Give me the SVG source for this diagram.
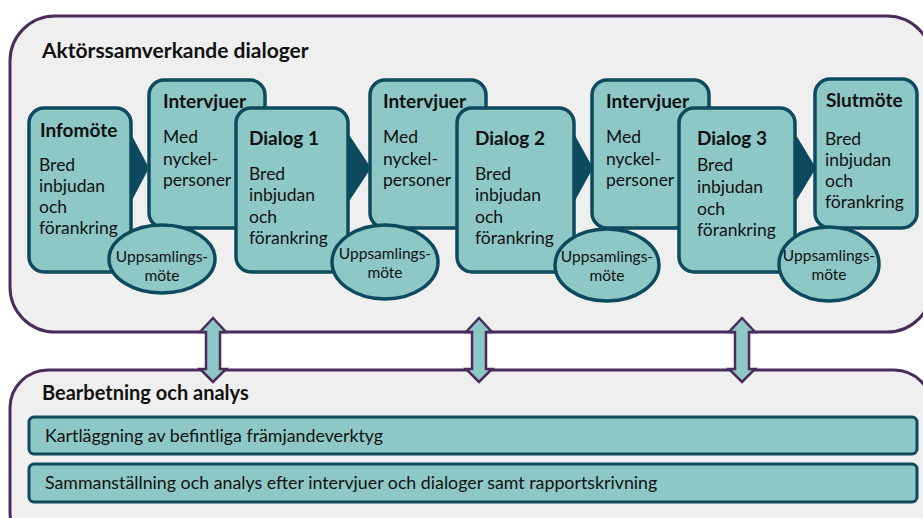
<svg xmlns="http://www.w3.org/2000/svg" width="923" height="518" viewBox="0 0 923 518">
<defs>
<style>
.panel{fill:#efefef;stroke:#4a2c5a;stroke-width:3}
.box{fill:#8ec8c6;stroke:#0e4a5e;stroke-width:3.5}
.bar{fill:#8ec8c6;stroke:#0e4a5e;stroke-width:3}
.chev{fill:#0e4a5e}
.dbl{fill:#8ec8c6;stroke:#4a2c5a;stroke-width:2.5;stroke-linejoin:miter}
text{font-family:Lato,"Open Sans","Liberation Sans",sans-serif;fill:#111}
.h{font-size:21px;font-weight:bold}
.h2{font-size:20px;font-weight:bold}
.t{font-size:19px;font-weight:bold}
.b{font-size:17.5px}
.e{font-size:15.5px;text-anchor:middle}
.bt{font-size:17.8px}
</style>
</defs>
<rect width="923" height="518" fill="#ffffff"/>
<g id="panel-top">
<rect class="panel" x="10" y="16" width="922" height="316" rx="45"/>
<text class="h" x="42" y="58">Aktörssamverkande dialoger</text>
</g>
<g id="panel-bottom">
<rect class="panel" x="10" y="370" width="922" height="180" rx="38"/>
<text class="h2" x="42" y="400">Bearbetning och analys</text>
</g>
<g id="connectors">
<polygon class="chev" points="129,130 149,168 129,206"/>
<polygon class="chev" points="346,130 371,168 346,206"/>
<polygon class="chev" points="572,130 593,168 572,206"/>
<polygon class="chev" points="793,130 816,168 793,206"/>
<polygon class="dbl" points="213,318 226,332 220,332 220,369 226,369 213,382 200,369 206,369 206,332 200,332"/>
<polygon class="dbl" points="479,318 492,332 486,332 486,369 492,369 479,382 466,369 472,369 472,332 466,332"/>
<polygon class="dbl" points="742,318 755,332 749,332 749,369 755,369 742,382 729,369 735,369 735,332 729,332"/>
</g>
<g id="infomote">
<rect class="box" x="29" y="108" width="102" height="164" rx="15"/>
<text class="t" x="40" y="137">Infomöte</text>
<text class="b" x="39" y="171">Bred</text>
<text class="b" x="39" y="192">inbjudan</text>
<text class="b" x="39" y="213">och</text>
<text class="b" x="39" y="234">förankring</text>
</g>
<g id="intervjuer1">
<rect class="box" x="149" y="80" width="116" height="148" rx="15"/>
<text class="t" x="163" y="108">Intervjuer</text>
<text class="b" x="163" y="143">Med</text>
<text class="b" x="163" y="165">nyckel-</text>
<text class="b" x="163" y="186">personer</text>
</g>
<g id="dialog1">
<rect class="box" x="236" y="108" width="112" height="164" rx="15"/>
<text class="t" x="249" y="145">Dialog 1</text>
<text class="b" x="249" y="180">Bred</text>
<text class="b" x="249" y="201">inbjudan</text>
<text class="b" x="249" y="223">och</text>
<text class="b" x="249" y="244">förankring</text>
</g>
<g id="uppsamling1">
<ellipse class="box" cx="162" cy="259" rx="53" ry="34"/>
<text class="e" x="162" y="262">Uppsamlings-</text>
<text class="e" x="162" y="281">möte</text>
</g>
<g id="intervjuer2">
<rect class="box" x="370" y="80" width="116" height="148" rx="15"/>
<text class="t" x="383" y="108">Intervjuer</text>
<text class="b" x="383" y="143">Med</text>
<text class="b" x="383" y="165">nyckel-</text>
<text class="b" x="383" y="186">personer</text>
</g>
<g id="dialog2">
<rect class="box" x="457" y="108" width="117" height="164" rx="15"/>
<text class="t" x="475" y="145">Dialog 2</text>
<text class="b" x="475" y="180">Bred</text>
<text class="b" x="475" y="201">inbjudan</text>
<text class="b" x="475" y="223">och</text>
<text class="b" x="475" y="244">förankring</text>
</g>
<g id="uppsamling2">
<ellipse class="box" cx="385" cy="262" rx="53" ry="37"/>
<text class="e" x="385" y="259">Uppsamlings-</text>
<text class="e" x="385" y="278">möte</text>
</g>
<g id="intervjuer3">
<rect class="box" x="592" y="80" width="117" height="148" rx="15"/>
<text class="t" x="606" y="108">Intervjuer</text>
<text class="b" x="606" y="143">Med</text>
<text class="b" x="606" y="165">nyckel-</text>
<text class="b" x="606" y="186">personer</text>
</g>
<g id="dialog3">
<rect class="box" x="679" y="108" width="116" height="164" rx="15"/>
<text class="t" x="697" y="145">Dialog 3</text>
<text class="b" x="697" y="171">Bred</text>
<text class="b" x="697" y="193">inbjudan</text>
<text class="b" x="697" y="215">och</text>
<text class="b" x="697" y="236">förankring</text>
</g>
<g id="uppsamling3">
<ellipse class="box" cx="607" cy="265" rx="52" ry="36"/>
<text class="e" x="607" y="262">Uppsamlings-</text>
<text class="e" x="607" y="281">möte</text>
</g>
<g id="slutmote">
<rect class="box" x="815" y="79" width="102" height="149" rx="15"/>
<text class="t" x="826" y="107">Slutmöte</text>
<text class="b" x="825" y="145">Bred</text>
<text class="b" x="825" y="166">inbjudan</text>
<text class="b" x="825" y="187">och</text>
<text class="b" x="825" y="208">förankring</text>
</g>
<g id="uppsamling4">
<ellipse class="box" cx="829" cy="264" rx="50" ry="37"/>
<text class="e" x="829" y="261">Uppsamlings-</text>
<text class="e" x="829" y="280">möte</text>
</g>
<g id="bar1">
<rect class="bar" x="29" y="417" width="888" height="37" rx="5"/>
<text class="bt" x="45" y="442">Kartläggning av befintliga främjandeverktyg</text>
</g>
<g id="bar2">
<rect class="bar" x="29" y="464" width="888" height="38" rx="5"/>
<text class="bt" x="45" y="489">Sammanställning och analys efter intervjuer och dialoger samt rapportskrivning</text>
</g>
</svg>
